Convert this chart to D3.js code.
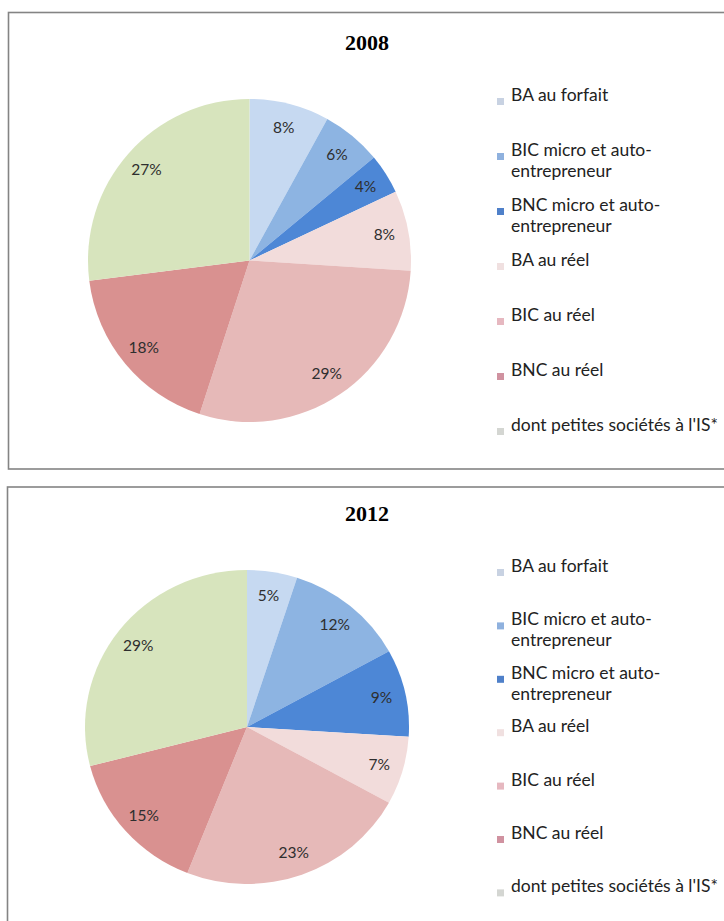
<!DOCTYPE html>
<html>
<head>
<meta charset="utf-8">
<script src="https://cdn.jsdelivr.net/npm/d3@7/dist/d3.min.js"></script>
<style>
  html, body { margin: 0; padding: 0; background: #fff; }
  svg { display: block; }
</style>
</head>
<body>
<svg id="chart"></svg>
<script>
'use strict';

// categories, in pie order (clockwise from 12 o'clock)
const categories = [
  'BA au forfait',
  'BIC micro et auto-entrepreneur',
  'BNC micro et auto-entrepreneur',
  'BA au réel',
  'BIC au réel',
  'BNC au réel',
  "dont petites sociétés à l'IS*"
];
const years = ['2008', '2012'];
const values2008 = [8, 6, 4, 8, 29, 18, 27];
const values2012 = [5, 12, 9, 7, 23, 15, 29];

const sliceColors = ['#c6d9f1', '#8db4e2', '#4d87d6', '#f2dcdb', '#e6b9b8', '#d99190', '#d7e4bd'];
const markerColors = ['#c8d2e2', '#8fb1de', '#4f80c9', '#f0e0e0', '#e6b8c0', '#d092a0', '#d4d6d2'];

const W = 724, H = 921;

const panels = [
  { year: years[0], values: values2008, box: [8.5, 12.5, 730, 456.5],
    titleY: 50, cx: 249.5, cy: 260.5, rx: 161.5, ry: 161.5, legY: 101, legStep: 55 },
  { year: years[1], values: values2012, box: [7.5, 487, 730, 460],
    titleY: 521, cx: 247, cy: 727, rx: 162, ry: 157, legY: 572, legStep: 53.4 }
];

const svg = d3.select('#chart')
    .attr('width', W)
    .attr('height', H);

const pie = d3.pie().sort(null).value(d => d);

panels.forEach(p => {
  const g = svg.append('g');

  g.append('rect')
      .attr('x', p.box[0])
      .attr('y', p.box[1])
      .attr('width', p.box[2])
      .attr('height', p.box[3])
      .style('fill', '#fff')
      .style('stroke', '#848484')
      .style('stroke-width', 1.6);

  g.append('text')
      .attr('x', 367)
      .attr('y', p.titleY)
      .attr('text-anchor', 'middle')
      .style('font-family', '"Liberation Serif", "Times New Roman", serif')
      .style('font-weight', 'bold')
      .style('font-size', '22px')
      .style('fill', '#000')
      .text(p.year);

  const arc = d3.arc().innerRadius(0).outerRadius(p.rx);
  const labelArc = d3.arc().innerRadius(p.rx * 0.85).outerRadius(p.rx * 0.85);
  const arcs = pie(p.values);

  g.append('g')
      .attr('transform', `translate(${p.cx}, ${p.cy}) scale(1, ${p.ry / p.rx})`)
    .selectAll('path')
      .data(arcs)
    .enter().append('path')
      .attr('d', arc)
      .style('fill', (d, i) => sliceColors[i]);

  g.append('g')
      .attr('transform', `translate(${p.cx}, ${p.cy})`)
    .selectAll('text')
      .data(arcs)
    .enter().append('text')
      .attr('x', d => labelArc.centroid(d)[0])
      .attr('y', d => labelArc.centroid(d)[1] * p.ry / p.rx)
      .attr('dy', '0.35em')
      .attr('text-anchor', 'middle')
      .style('font-family', 'Lato, "Open Sans", sans-serif')
      .style('font-size', '15.5px')
      .style('fill', '#2e2e2e')
      .text(d => `${d.data}%`);

  const legend = g.append('g')
      .selectAll('g')
      .data(categories)
    .enter().append('g')
      .attr('transform', (d, i) => `translate(0, ${p.legY + i * p.legStep})`);

  legend.append('rect')
      .attr('x', 497)
      .attr('y', -3)
      .attr('width', 7)
      .attr('height', 7)
      .style('fill', (d, i) => markerColors[i]);

  legend.append('text')
      .attr('x', 511)
      .attr('y', 0)
      .attr('dy', '0.35em')
      .style('font-family', 'Lato, "Open Sans", sans-serif')
      .style('font-size', '17.5px')
      .style('fill', '#222')
    .selectAll('tspan')
      .data(d => d.includes('auto-') ? d.split(/(?<=auto-)/) : [d])
    .enter().append('tspan')
      .attr('x', 511)
      .attr('dy', (d, i) => i === 0 ? 0 : 21)
      .text(d => d);
});
</script>
</body>
</html>
